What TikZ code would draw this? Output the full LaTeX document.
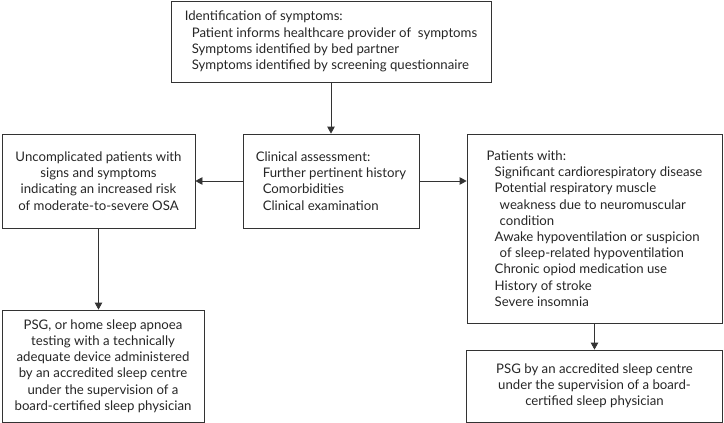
\documentclass[tikz,border=0pt]{standalone}
\usepackage{fontspec}
\setmainfont{Lato}
\usetikzlibrary{arrows.meta}
\begin{document}
\begin{tikzpicture}[x=1pt,y=-1pt,
  flowbox/.style={draw=black!80, line width=0.8pt, inner sep=0pt, text=black!85, font=\fontsize{13.2}{16.2}\selectfont},
  leftbox/.style={flowbox, align=left},
  centrebox/.style={flowbox, align=center},
  flowarrow/.style={draw=black!80, line width=0.8pt, -{Triangle[length=7pt,width=7.5pt]}}]
\useasboundingbox (0,0) rectangle (724,423);
\node[leftbox, minimum width=320, minimum height=81] (Symptoms) at (331,41.5) {Identification of symptoms:\\
\hspace*{7pt}Patient informs healthcare provider of\ \ symptoms\\
\hspace*{7pt}Symptoms identified by bed partner\\
\hspace*{7pt}Symptoms identified by screening questionnaire};
\node[leftbox, minimum width=176, minimum height=94] (Assess) at (331,181) {Clinical assessment:\\
\hspace*{7pt}Further pertinent history\\
\hspace*{7pt}Comorbidities\\
\hspace*{7pt}Clinical examination};
\node[centrebox, minimum width=193, minimum height=94] (Uncomplicated) at (98.5,181) {Uncomplicated patients with\\ signs and symptoms\\ indicating an increased risk\\ of moderate-to-severe OSA};
\node[leftbox, minimum width=255, minimum height=189] (Patients) at (594.5,228.5) {Patients with:\\
\hspace*{8pt}Significant cardiorespiratory disease\\
\hspace*{8pt}Potential respiratory muscle\\
\hspace*{13pt}weakness due to neuromuscular\\
\hspace*{13pt}condition\\
\hspace*{8pt}Awake hypoventilation or suspicion\\
\hspace*{13pt}of sleep-related hypoventilation\\
\hspace*{8pt}Chronic opiod medication use\\
\hspace*{8pt}History of stroke\\
\hspace*{8pt}Severe insomnia};
\node[centrebox, minimum width=202, minimum height=112] (PSGhome) at (103,366) {PSG, or home sleep apnoea\\ testing with a technically\\ adequate device administered\\ by an accredited sleep centre\\ under the supervision of a\\ board-certified sleep physician};
\node[centrebox, minimum width=256, minimum height=72] (PSGlab) at (594.5,386) {PSG by an accredited sleep centre\\ under the supervision of a board-\\ certified sleep physician};
\draw[flowarrow] (Symptoms) -- (Assess);
\draw[flowarrow] (Assess) -- (Uncomplicated);
\draw[flowarrow] (Assess.east) -- (Assess.east -| Patients.west);
\draw[flowarrow] (Uncomplicated.south) -- (Uncomplicated.south |- PSGhome.north);
\draw[flowarrow] (Patients) -- (PSGlab);
\end{tikzpicture}
\end{document}
